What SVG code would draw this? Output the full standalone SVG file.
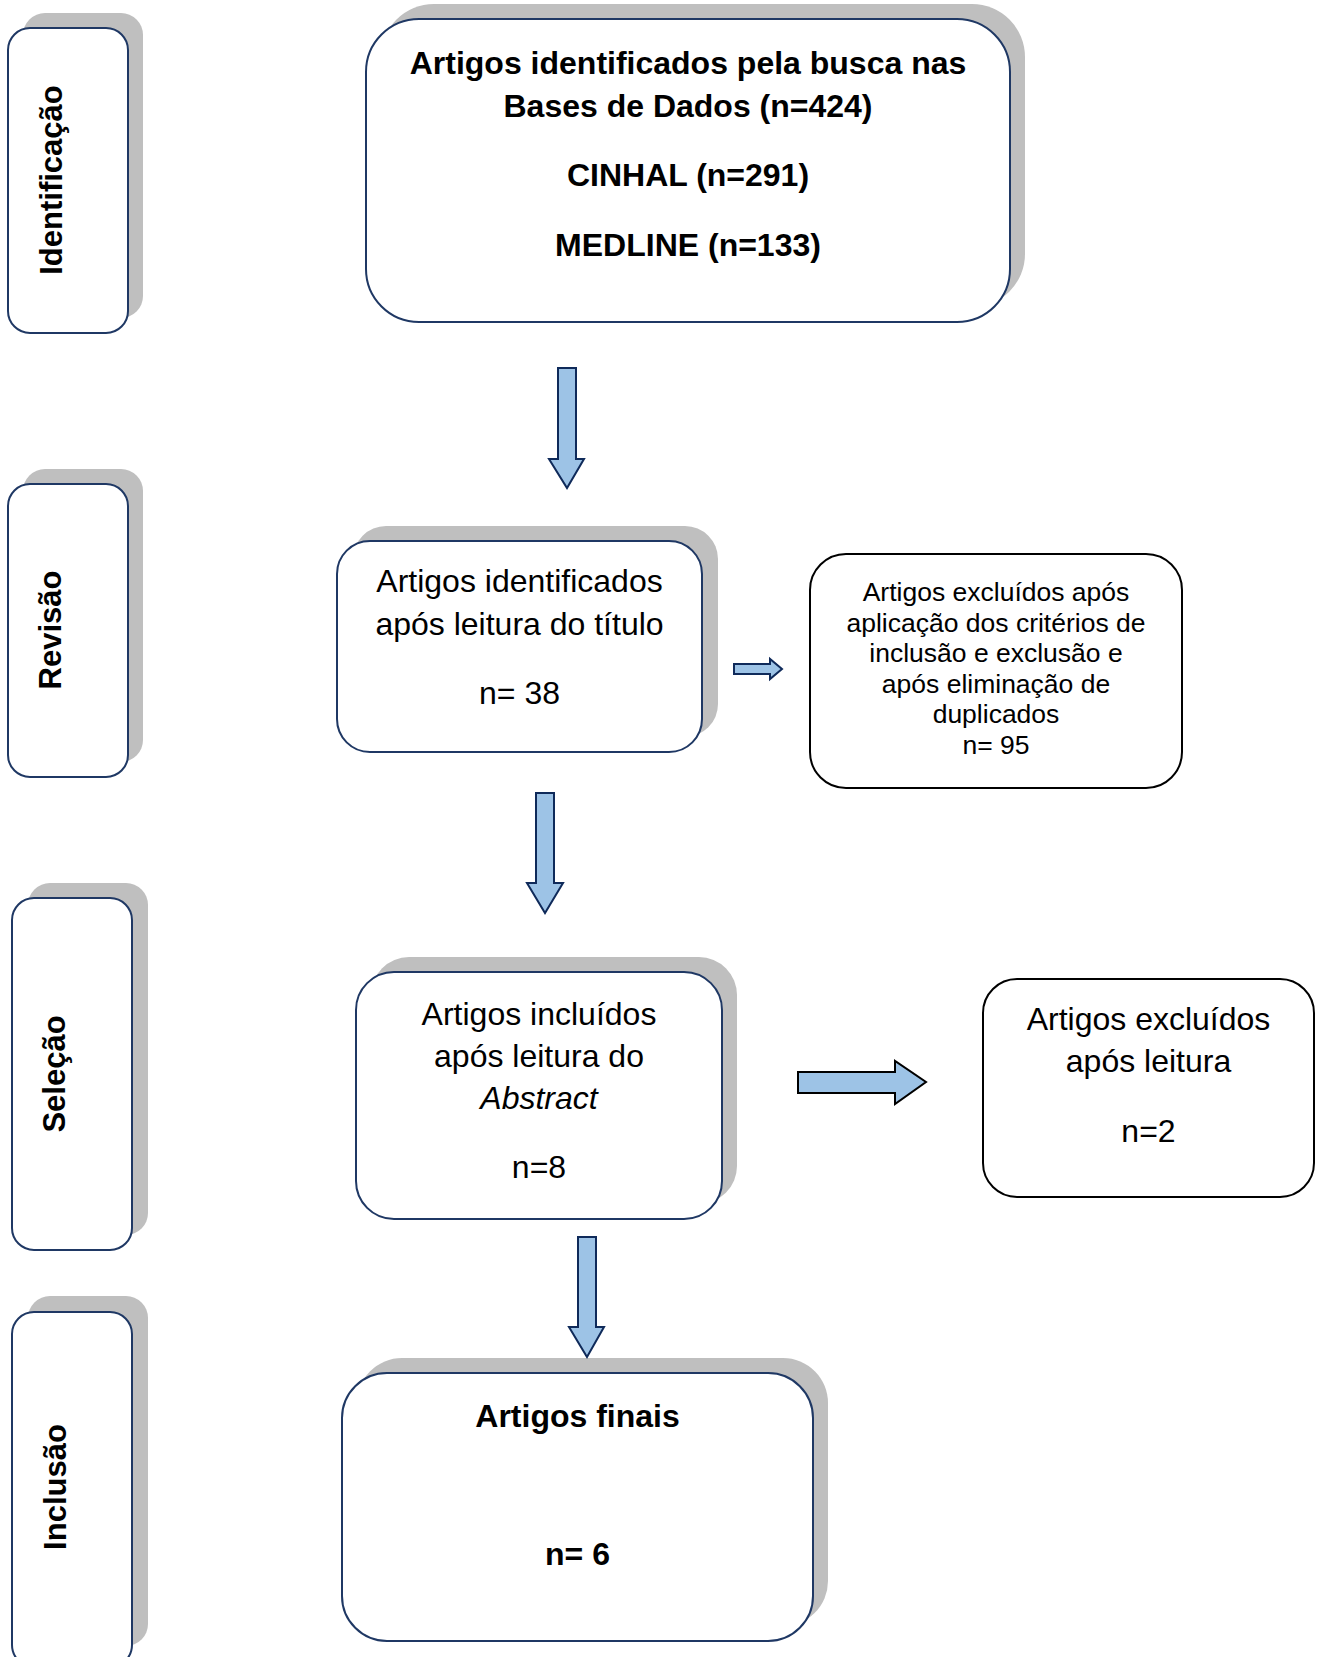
<svg xmlns="http://www.w3.org/2000/svg" width="1319" height="1657" viewBox="0 0 1319 1657">
<style>
.sh{fill:#BFBFBF;stroke:none}
.bx{fill:#FFFFFF;stroke:#1F3864;stroke-width:2}
.bk{fill:#FFFFFF;stroke:#000000;stroke-width:2}
.lab{font-family:"Liberation Sans",Arial,sans-serif;font-weight:bold;font-size:31px;fill:#000;text-anchor:middle}
.t{font-family:"Liberation Sans",Arial,sans-serif;font-size:32px;fill:#000;text-anchor:middle}
.tb{font-family:"Liberation Sans",Arial,sans-serif;font-size:32px;font-weight:bold;fill:#000;text-anchor:middle}
.ts{font-family:"Liberation Sans",Arial,sans-serif;font-size:26.5px;fill:#000;text-anchor:middle}
.ar{fill:#9DC3E6;stroke:#0F2A5A;stroke-width:2;stroke-linejoin:miter}
.arb{fill:#9DC3E6;stroke:#000000;stroke-width:2;stroke-linejoin:miter}
</style>
<rect width="1319" height="1657" fill="#FFFFFF"/>

<g id="label-identificacao">
<rect class="sh" x="23" y="13" width="120" height="305" rx="22"/>
<rect class="bx" x="8" y="28" width="120" height="305" rx="22"/>
<text class="lab" transform="translate(62,180) rotate(-90)">Identificação</text>
</g>
<g id="label-revisao">
<rect class="sh" x="23" y="469" width="120" height="293" rx="22"/>
<rect class="bx" x="8" y="484" width="120" height="293" rx="22"/>
<text class="lab" transform="translate(61,630) rotate(-90)">Revisão</text>
</g>
<g id="label-selecao">
<rect class="sh" x="28" y="883" width="120" height="352" rx="22"/>
<rect class="bx" x="12" y="898" width="120" height="352" rx="22"/>
<text class="lab" transform="translate(65,1074) rotate(-90)">Seleção</text>
</g>
<g id="label-inclusao">
<rect class="sh" x="28" y="1296" width="120" height="350" rx="22"/>
<rect class="bx" x="12" y="1312" width="120" height="355" rx="22"/>
<text class="lab" transform="translate(66,1487) rotate(-90)">Inclusão</text>
</g>

<g id="box-identificados">
<rect class="sh" x="381" y="4" width="644" height="303" rx="53"/>
<rect class="bx" x="366" y="19" width="644" height="303" rx="53"/>
<text class="tb" x="688" y="73.5">Artigos identificados pela busca nas</text>
<text class="tb" x="688" y="116.5">Bases de Dados (n=424)</text>
<text class="tb" x="688" y="186">CINHAL (n=291)</text>
<text class="tb" x="688" y="256">MEDLINE (n=133)</text>
</g>

<g id="box-titulo">
<rect class="sh" x="353" y="526" width="365" height="211" rx="33"/>
<rect class="bx" x="337" y="541" width="365" height="211" rx="33"/>
<text class="t" x="519.5" y="591.5">Artigos identificados</text>
<text class="t" x="519.5" y="634.5">após leitura do título</text>
<text class="t" x="519.5" y="703.5">n= 38</text>
</g>

<g id="box-excluidos-95">
<rect class="bk" x="810" y="554" width="372" height="234" rx="36"/>
<text class="ts" x="996" y="601">Artigos excluídos após</text>
<text class="ts" x="996" y="631.6">aplicação dos critérios de</text>
<text class="ts" x="996" y="662.2">inclusão e exclusão e</text>
<text class="ts" x="996" y="692.8">após eliminação de</text>
<text class="ts" x="996" y="723.4">duplicados</text>
<text class="ts" x="996" y="754">n= 95</text>
</g>

<g id="box-abstract">
<rect class="sh" x="371" y="957" width="366" height="247" rx="38"/>
<rect class="bx" x="356" y="972" width="366" height="247" rx="38"/>
<text class="t" x="539" y="1025">Artigos incluídos</text>
<text class="t" x="539" y="1067">após leitura do</text>
<text class="t" x="539" y="1109" font-style="italic">Abstract</text>
<text class="t" x="539" y="1178">n=8</text>
</g>

<g id="box-excluidos-2">
<rect class="bk" x="983" y="979" width="331" height="218" rx="34"/>
<text class="t" x="1148.5" y="1029.5">Artigos excluídos</text>
<text class="t" x="1148.5" y="1071.5">após leitura</text>
<text class="t" x="1148.5" y="1141.5">n=2</text>
</g>

<g id="box-finais">
<rect class="sh" x="357" y="1358" width="471" height="268" rx="45"/>
<rect class="bx" x="342" y="1373" width="471" height="268" rx="45"/>
<text class="tb" x="577.5" y="1426.5">Artigos finais</text>
<text class="tb" x="577.5" y="1565">n= 6</text>
</g>

<g id="connectors">
<path class="ar" d="M558,368 H576 V459 H584 L567,488 L549,459 H558 Z"/>
<path class="ar" d="M536,793 H554 V883 H563 L545,913 L527,883 H536 Z"/>
<path class="ar" d="M734,664 H770 V659 L782,669 L770,679 V674 H734 Z"/>
<path class="arb" d="M798,1072 H895 V1061 L926,1082 L895,1104 V1093 H798 Z"/>
<path class="ar" d="M578,1237 H596 V1327 H604 L587,1357 L569,1327 H578 Z"/>
</g>
</svg>
